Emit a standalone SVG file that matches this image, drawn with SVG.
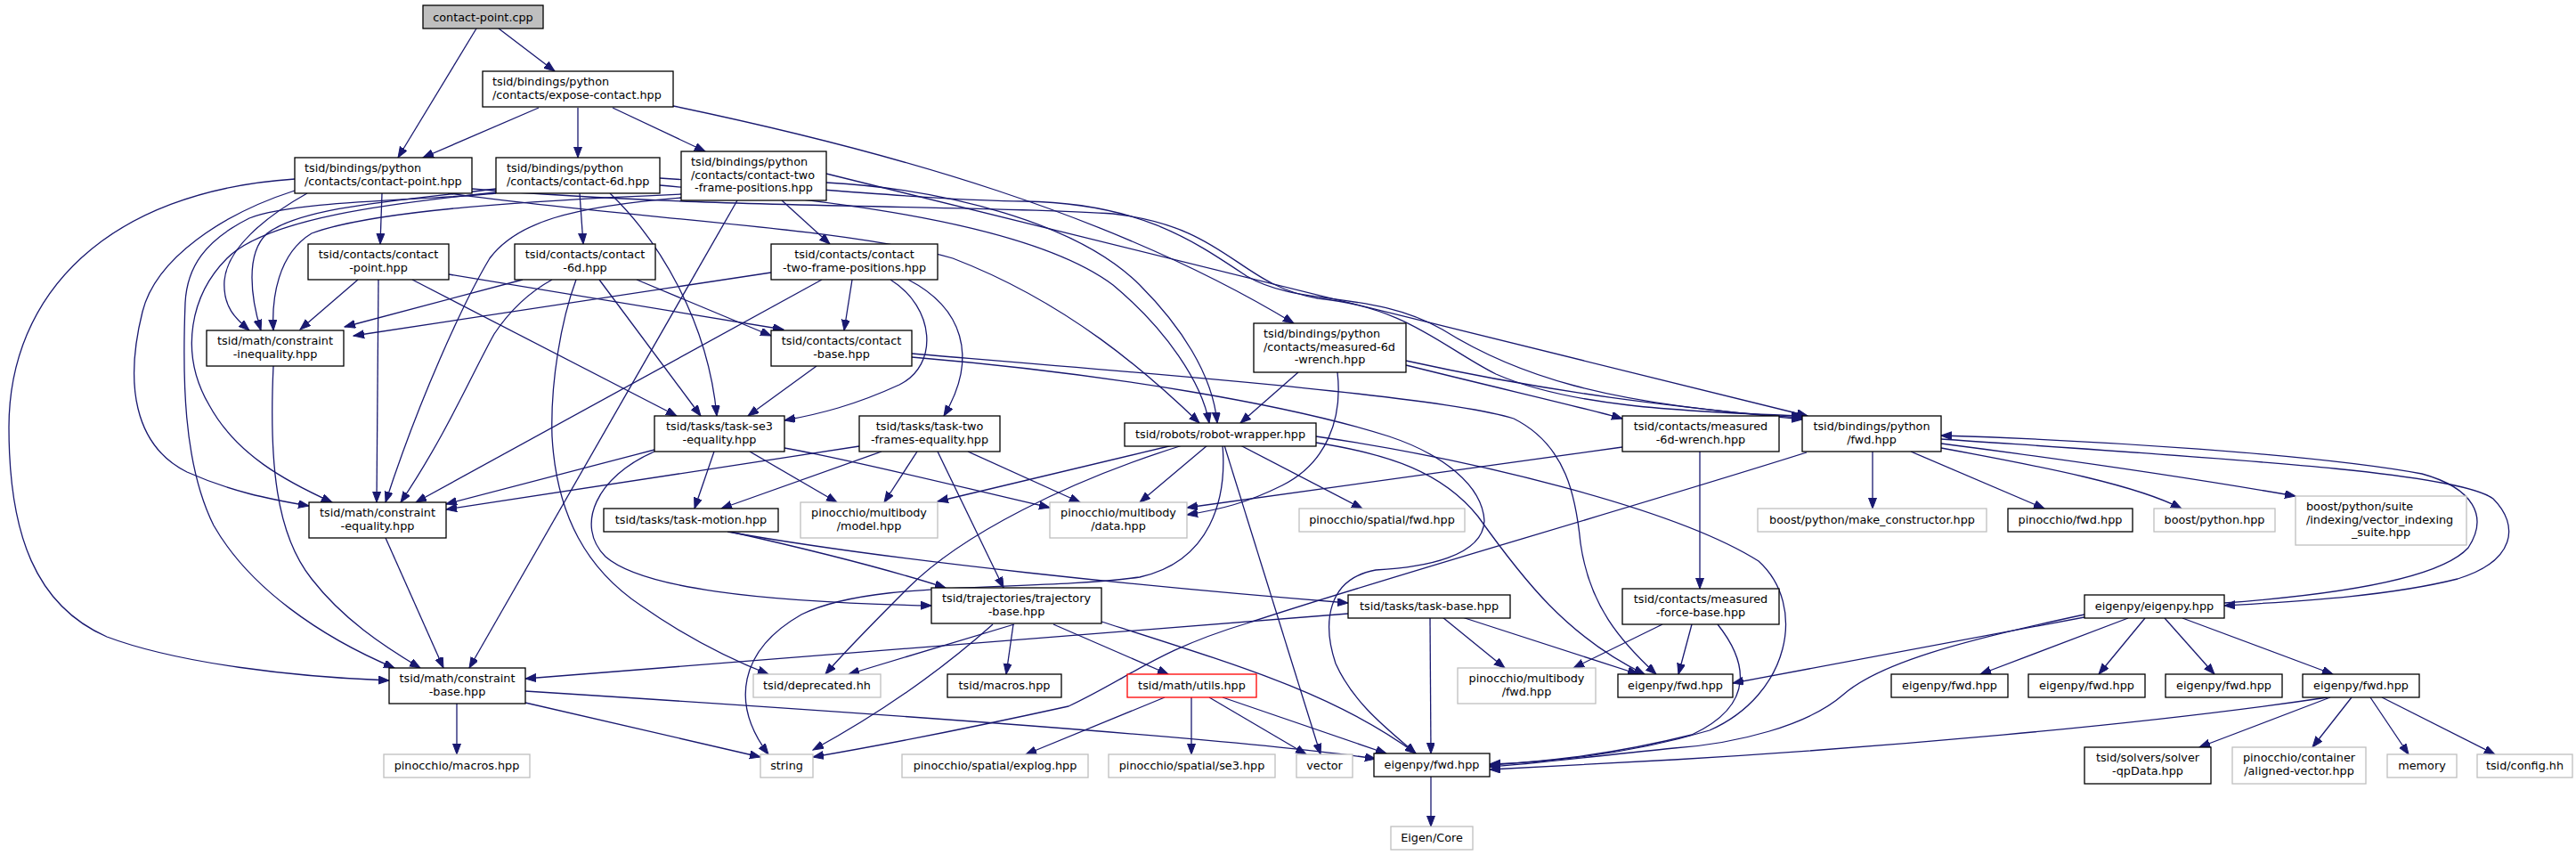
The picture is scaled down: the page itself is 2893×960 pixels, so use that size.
<svg xmlns="http://www.w3.org/2000/svg" width="2893" height="960" viewBox="0 0 2893 960">
<style>
text{font-family:"DejaVu Sans","Liberation Sans",sans-serif;font-size:12.8px;fill:#000}
.c{text-anchor:middle}
.node rect{fill:#fff;stroke:#000;stroke-width:1.3}
.node.ext rect{stroke:#bfbfbf}
.node.root rect{fill:#bfbfbf}
.node.red rect{stroke:#f00}
#edges path{fill:none;stroke:#191970;stroke-width:1.3;marker-end:url(#arr)}
</style>
<defs>
<marker id="arr" markerUnits="userSpaceOnUse" markerWidth="13" markerHeight="10" refX="12" refY="4.5" orient="auto">
<path d="M0,0 L12,4.5 L0,9 Z" fill="#191970" stroke="#191970" stroke-width="1"/>
</marker>
</defs>
<rect width="2893" height="960" fill="#fff"/>
<g id="edges">
<path d="M535,32 L447,177"/>
<path d="M560,32 L623,80"/>
<path d="M605,121 L475,177"/>
<path d="M649,121 L649,177"/>
<path d="M688,121 L792,170"/>
<path d="M756,119 C1000,170 1250,240 1453,363"/>
<path d="M429,217 L427,274"/>
<path d="M651,217 L655,274"/>
<path d="M878,225 L932,274"/>
<path d="M331,201 C120,215 10,330 10,480 C10,600 40,680 120,715 C200,745 330,760 437,764"/>
<path d="M331,214 C250,240 175,290 160,350 C140,430 150,500 210,530 C260,552 300,560 347,568"/>
<path d="M345,217 C295,245 255,280 252,315 C250,345 265,358 280,371"/>
<path d="M557,212 C450,225 340,232 300,262 C275,285 282,335 293,371"/>
<path d="M765,218 C600,225 420,236 350,262 C312,285 305,335 307,371"/>
<path d="M557,216 C440,228 300,245 255,290 C215,330 200,395 235,455 C265,510 320,540 373,564"/>
<path d="M765,222 C640,232 580,250 550,290 C520,340 470,450 433,564"/>
<path d="M557,217 C480,225 330,225 280,245 C230,270 210,300 208,340 C205,420 205,520 240,590 C280,660 360,715 443,750"/>
<path d="M828,225 L527,750"/>
<path d="M402,314 L337,370"/>
<path d="M425,314 L423,564"/>
<path d="M504,308 L880,370"/>
<path d="M463,314 L760,467"/>
<path d="M587,314 L387,367"/>
<path d="M620,314 C600,325 575,345 555,375 C530,420 500,490 450,564"/>
<path d="M715,314 L866,377"/>
<path d="M673,314 L787,467"/>
<path d="M647,314 C630,360 618,430 620,490 C625,580 660,640 720,680 C770,715 820,740 863,757"/>
<path d="M685,217 C740,270 795,360 805,467"/>
<path d="M866,306 L397,377"/>
<path d="M923,314 L467,564"/>
<path d="M957,314 L948,371"/>
<path d="M1000,314 C1050,345 1055,410 1010,432 C960,455 920,465 881,472"/>
<path d="M1020,314 C1080,345 1100,400 1060,467"/>
<path d="M917,411 L840,467"/>
<path d="M307,411 C302,520 310,600 350,650 C385,695 430,725 472,750"/>
<path d="M433,604 L498,750"/>
<path d="M735,505 L501,566"/>
<path d="M802,507 L780,571"/>
<path d="M842,507 L940,564"/>
<path d="M881,503 C950,515 1050,540 1179,570"/>
<path d="M735,507 C670,535 645,590 680,625 C720,660 850,676 1046,680"/>
<path d="M965,501 L501,572"/>
<path d="M990,507 L810,571"/>
<path d="M1030,507 L993,564"/>
<path d="M1087,507 L1213,564"/>
<path d="M1053,507 L1127,660"/>
<path d="M503,217 C700,245 950,255 1070,290 C1200,340 1290,420 1347,475"/>
<path d="M741,208 C900,222 1150,245 1250,320 C1310,370 1350,430 1358,475"/>
<path d="M928,205 C1060,212 1210,250 1280,320 C1325,365 1362,420 1367,475"/>
<path d="M1458,418 L1393,475"/>
<path d="M530,212 C800,235 1100,230 1250,240 C1380,255 1390,320 1480,335 C1580,345 1620,390 1680,420 C1760,455 1880,462 2024,467"/>
<path d="M741,200 C900,210 1050,225 1150,226 C1280,228 1340,270 1400,310 C1460,345 1540,325 1620,370 C1700,420 1800,455 2024,469"/>
<path d="M928,195 L2030,467"/>
<path d="M1579,410 C1700,440 1780,458 1822,470"/>
<path d="M1579,405 C1760,445 1900,458 2024,471"/>
<path d="M1502,418 C1508,470 1490,520 1440,545 C1400,565 1370,572 1333,578"/>
<path d="M1317,500 L1053,563"/>
<path d="M1356,500 L1280,564"/>
<path d="M1393,500 L1530,571"/>
<path d="M1328,500 C1200,540 1080,600 1020,660 C980,700 950,730 927,757"/>
<path d="M1373,500 C1378,560 1360,630 1280,648 C1150,665 980,650 900,690 C830,730 820,790 863,847"/>
<path d="M1375,500 L1483,847"/>
<path d="M1478,497 C1560,510 1620,530 1660,580 C1710,650 1760,715 1847,757"/>
<path d="M1478,490 C1650,515 1880,570 1975,630 C2030,680 2010,780 1920,820 C1820,850 1730,856 1673,858"/>
<path d="M1024,397 C1300,420 1620,445 1700,470 C1760,500 1770,560 1775,610 C1785,680 1820,720 1860,757"/>
<path d="M1024,401 C1250,420 1450,455 1560,490 C1620,510 1665,545 1667,585 C1665,625 1600,637 1545,640 C1490,650 1485,700 1500,745 C1520,790 1560,820 1590,846"/>
<path d="M1822,502 L1333,570"/>
<path d="M1909,507 L1909,661"/>
<path d="M2103,507 L2103,571"/>
<path d="M2146,507 L2296,571"/>
<path d="M2180,503 C2300,525 2400,545 2450,571"/>
<path d="M2180,498 C2350,520 2480,540 2578,557"/>
<path d="M2180,493 C2500,515 2760,530 2800,560 C2830,590 2825,630 2760,650 C2680,670 2580,675 2498,680"/>
<path d="M2498,677 C2620,668 2740,650 2772,615 C2795,580 2778,548 2720,532 C2600,510 2350,494 2180,489"/>
<path d="M2029,508 C1800,580 1550,650 1400,700 C1300,730 1270,760 1200,793 C1100,815 1000,835 913,850"/>
<path d="M2341,693 L1946,767"/>
<path d="M2390,694 L2224,757"/>
<path d="M2409,694 L2357,757"/>
<path d="M2431,694 L2487,757"/>
<path d="M2451,694 L2620,757"/>
<path d="M2341,690 C2200,720 2110,745 2070,780 C2030,815 1950,835 1880,840 C1800,848 1720,858 1673,861"/>
<path d="M2614,783 C2400,815 2100,840 1880,853 C1800,857 1720,862 1673,864"/>
<path d="M2617,783 L2470,839"/>
<path d="M2641,783 L2597,839"/>
<path d="M2662,783 L2705,847"/>
<path d="M2675,783 L2802,847"/>
<path d="M1867,701 L1767,750"/>
<path d="M1900,701 L1885,757"/>
<path d="M1929,701 C1960,740 1975,790 1900,825 C1800,850 1720,856 1673,859"/>
<path d="M1514,689 L590,762"/>
<path d="M1620,693 L1690,750"/>
<path d="M1642,693 L1840,757"/>
<path d="M1606,693 L1607,846"/>
<path d="M817,597 C1000,630 1300,660 1514,677"/>
<path d="M820,597 C900,615 1000,640 1062,660"/>
<path d="M1139,701 L953,757"/>
<path d="M1115,701 C1060,750 990,800 913,842"/>
<path d="M1138,701 L1130,757"/>
<path d="M1183,701 L1312,757"/>
<path d="M1237,698 C1400,750 1500,780 1590,846"/>
<path d="M1308,783 L1152,847"/>
<path d="M1338,783 L1338,847"/>
<path d="M1358,783 L1467,847"/>
<path d="M1373,783 L1557,846"/>
<path d="M513,790 L513,847"/>
<path d="M590,789 L854,850"/>
<path d="M590,776 C1000,802 1400,830 1545,852"/>
<path d="M1607,872 L1607,928"/>
</g>
<g id="n1" class="node root"><rect x="475" y="6" width="135" height="26"/><text class="c" x="542.5" y="23.5">contact-point.cpp</text></g>
<g id="n2" class="node"><rect x="331" y="177" width="199" height="40"/><text x="342" y="193">tsid/bindings/python</text><text x="342" y="207.7">/contacts/contact-point.hpp</text></g>
<g id="n3" class="node"><rect x="542" y="80" width="214" height="40"/><text x="553" y="96">tsid/bindings/python</text><text x="553" y="110.7">/contacts/expose-contact.hpp</text></g>
<g id="n4" class="node"><rect x="557" y="177" width="184" height="40"/><text x="569" y="193">tsid/bindings/python</text><text x="569" y="207.7">/contacts/contact-6d.hpp</text></g>
<g id="n5" class="node"><rect x="765" y="170" width="163" height="55"/><text x="776" y="186">tsid/bindings/python</text><text x="776" y="200.7">/contacts/contact-two</text><text class="c" x="846.5" y="215.3">-frame-positions.hpp</text></g>
<g id="n6" class="node"><rect x="346" y="274" width="158" height="40"/><text class="c" x="425" y="290">tsid/contacts/contact</text><text class="c" x="425" y="304.7">-point.hpp</text></g>
<g id="n7" class="node"><rect x="578" y="274" width="158" height="40"/><text class="c" x="657" y="290">tsid/contacts/contact</text><text class="c" x="657" y="304.7">-6d.hpp</text></g>
<g id="n8" class="node"><rect x="866" y="274" width="187" height="40"/><text class="c" x="959.5" y="290">tsid/contacts/contact</text><text class="c" x="959.5" y="304.7">-two-frame-positions.hpp</text></g>
<g id="n9" class="node"><rect x="1408" y="363" width="171" height="55"/><text x="1419" y="379">tsid/bindings/python</text><text x="1419" y="393.7">/contacts/measured-6d</text><text class="c" x="1493.5" y="408.3">-wrench.hpp</text></g>
<g id="n10" class="node"><rect x="232" y="371" width="154" height="40"/><text class="c" x="309" y="387">tsid/math/constraint</text><text class="c" x="309" y="401.7">-inequality.hpp</text></g>
<g id="n11" class="node"><rect x="866" y="371" width="158" height="40"/><text class="c" x="945" y="387">tsid/contacts/contact</text><text class="c" x="945" y="401.7">-base.hpp</text></g>
<g id="n12" class="node"><rect x="735" y="467" width="146" height="40"/><text class="c" x="808" y="483">tsid/tasks/task-se3</text><text class="c" x="808" y="497.7">-equality.hpp</text></g>
<g id="n13" class="node"><rect x="965" y="467" width="158" height="40"/><text class="c" x="1044" y="483">tsid/tasks/task-two</text><text class="c" x="1044" y="497.7">-frames-equality.hpp</text></g>
<g id="n14" class="node"><rect x="1263" y="475" width="215" height="26"/><text class="c" x="1370.5" y="492">tsid/robots/robot-wrapper.hpp</text></g>
<g id="n15" class="node"><rect x="1822" y="467" width="176" height="40"/><text class="c" x="1910" y="483">tsid/contacts/measured</text><text class="c" x="1910" y="497.7">-6d-wrench.hpp</text></g>
<g id="n16" class="node"><rect x="2024" y="467" width="156" height="40"/><text class="c" x="2102" y="483">tsid/bindings/python</text><text class="c" x="2102" y="497.7">/fwd.hpp</text></g>
<g id="n17" class="node"><rect x="347" y="564" width="154" height="40"/><text class="c" x="424" y="580">tsid/math/constraint</text><text class="c" x="424" y="594.7">-equality.hpp</text></g>
<g id="n18" class="node"><rect x="678" y="571" width="196" height="26"/><text class="c" x="776" y="588">tsid/tasks/task-motion.hpp</text></g>
<g id="n19" class="node ext"><rect x="899" y="564" width="154" height="40"/><text class="c" x="976" y="580">pinocchio/multibody</text><text class="c" x="976" y="594.7">/model.hpp</text></g>
<g id="n20" class="node ext"><rect x="1179" y="564" width="154" height="40"/><text class="c" x="1256" y="580">pinocchio/multibody</text><text class="c" x="1256" y="594.7">/data.hpp</text></g>
<g id="n21" class="node ext"><rect x="1459" y="571" width="186" height="26"/><text class="c" x="1552" y="588">pinocchio/spatial/fwd.hpp</text></g>
<g id="n22" class="node ext"><rect x="1974" y="571" width="257" height="26"/><text class="c" x="2102.5" y="588">boost/python/make_constructor.hpp</text></g>
<g id="n23" class="node"><rect x="2255" y="571" width="140" height="26"/><text class="c" x="2325" y="588">pinocchio/fwd.hpp</text></g>
<g id="n24" class="node ext"><rect x="2419" y="571" width="136" height="26"/><text class="c" x="2487" y="588">boost/python.hpp</text></g>
<g id="n25" class="node ext"><rect x="2578" y="557" width="192" height="55"/><text x="2590" y="573">boost/python/suite</text><text x="2590" y="587.7">/indexing/vector_indexing</text><text class="c" x="2674" y="602.3">_suite.hpp</text></g>
<g id="n26" class="node"><rect x="1046" y="660" width="191" height="40"/><text class="c" x="1141.5" y="676">tsid/trajectories/trajectory</text><text class="c" x="1141.5" y="690.7">-base.hpp</text></g>
<g id="n27" class="node"><rect x="1514" y="668" width="182" height="26"/><text class="c" x="1605" y="685">tsid/tasks/task-base.hpp</text></g>
<g id="n28" class="node"><rect x="1822" y="661" width="176" height="40"/><text class="c" x="1910" y="677">tsid/contacts/measured</text><text class="c" x="1910" y="691.7">-force-base.hpp</text></g>
<g id="n29" class="node"><rect x="2341" y="668" width="157" height="26"/><text class="c" x="2419.5" y="685">eigenpy/eigenpy.hpp</text></g>
<g id="n30" class="node"><rect x="437" y="750" width="153" height="40"/><text class="c" x="513.5" y="766">tsid/math/constraint</text><text class="c" x="513.5" y="780.7">-base.hpp</text></g>
<g id="n31" class="node ext"><rect x="846" y="757" width="143" height="26"/><text class="c" x="917.5" y="774">tsid/deprecated.hh</text></g>
<g id="n32" class="node"><rect x="1064" y="757" width="128" height="26"/><text class="c" x="1128" y="774">tsid/macros.hpp</text></g>
<g id="n33" class="node red"><rect x="1266" y="757" width="145" height="26"/><text class="c" x="1338.5" y="774">tsid/math/utils.hpp</text></g>
<g id="n34" class="node ext"><rect x="1637" y="750" width="155" height="40"/><text class="c" x="1714.5" y="766">pinocchio/multibody</text><text class="c" x="1714.5" y="780.7">/fwd.hpp</text></g>
<g id="n35" class="node"><rect x="1817" y="757" width="129" height="26"/><text class="c" x="1881.5" y="774">eigenpy/fwd.hpp</text></g>
<g id="n36" class="node"><rect x="2124" y="757" width="131" height="26"/><text class="c" x="2189.5" y="774">eigenpy/fwd.hpp</text></g>
<g id="n37" class="node"><rect x="2278" y="757" width="131" height="26"/><text class="c" x="2343.5" y="774">eigenpy/fwd.hpp</text></g>
<g id="n38" class="node"><rect x="2432" y="757" width="131" height="26"/><text class="c" x="2497.5" y="774">eigenpy/fwd.hpp</text></g>
<g id="n39" class="node"><rect x="2586" y="757" width="131" height="26"/><text class="c" x="2651.5" y="774">eigenpy/fwd.hpp</text></g>
<g id="n40" class="node ext"><rect x="431" y="847" width="164" height="26"/><text class="c" x="513" y="864">pinocchio/macros.hpp</text></g>
<g id="n41" class="node ext"><rect x="854" y="847" width="59" height="26"/><text class="c" x="883.5" y="864">string</text></g>
<g id="n42" class="node ext"><rect x="1013" y="847" width="209" height="26"/><text class="c" x="1117.5" y="864">pinocchio/spatial/explog.hpp</text></g>
<g id="n43" class="node ext"><rect x="1245" y="847" width="187" height="26"/><text class="c" x="1338.5" y="864">pinocchio/spatial/se3.hpp</text></g>
<g id="n44" class="node ext"><rect x="1456" y="847" width="63" height="26"/><text class="c" x="1487.5" y="864">vector</text></g>
<g id="n45" class="node"><rect x="1543" y="846" width="130" height="26"/><text class="c" x="1608" y="863">eigenpy/fwd.hpp</text></g>
<g id="n46" class="node"><rect x="2341" y="839" width="142" height="41"/><text class="c" x="2412" y="855">tsid/solvers/solver</text><text class="c" x="2412" y="869.7">-qpData.hpp</text></g>
<g id="n47" class="node ext"><rect x="2507" y="839" width="150" height="41"/><text class="c" x="2582" y="855">pinocchio/container</text><text class="c" x="2582" y="869.7">/aligned-vector.hpp</text></g>
<g id="n48" class="node ext"><rect x="2681" y="847" width="78" height="26"/><text class="c" x="2720" y="864">memory</text></g>
<g id="n49" class="node ext"><rect x="2782" y="847" width="107" height="26"/><text class="c" x="2835.5" y="864">tsid/config.hh</text></g>
<g id="n50" class="node ext"><rect x="1562" y="928" width="92" height="26"/><text class="c" x="1608" y="945">Eigen/Core</text></g>
</svg>
